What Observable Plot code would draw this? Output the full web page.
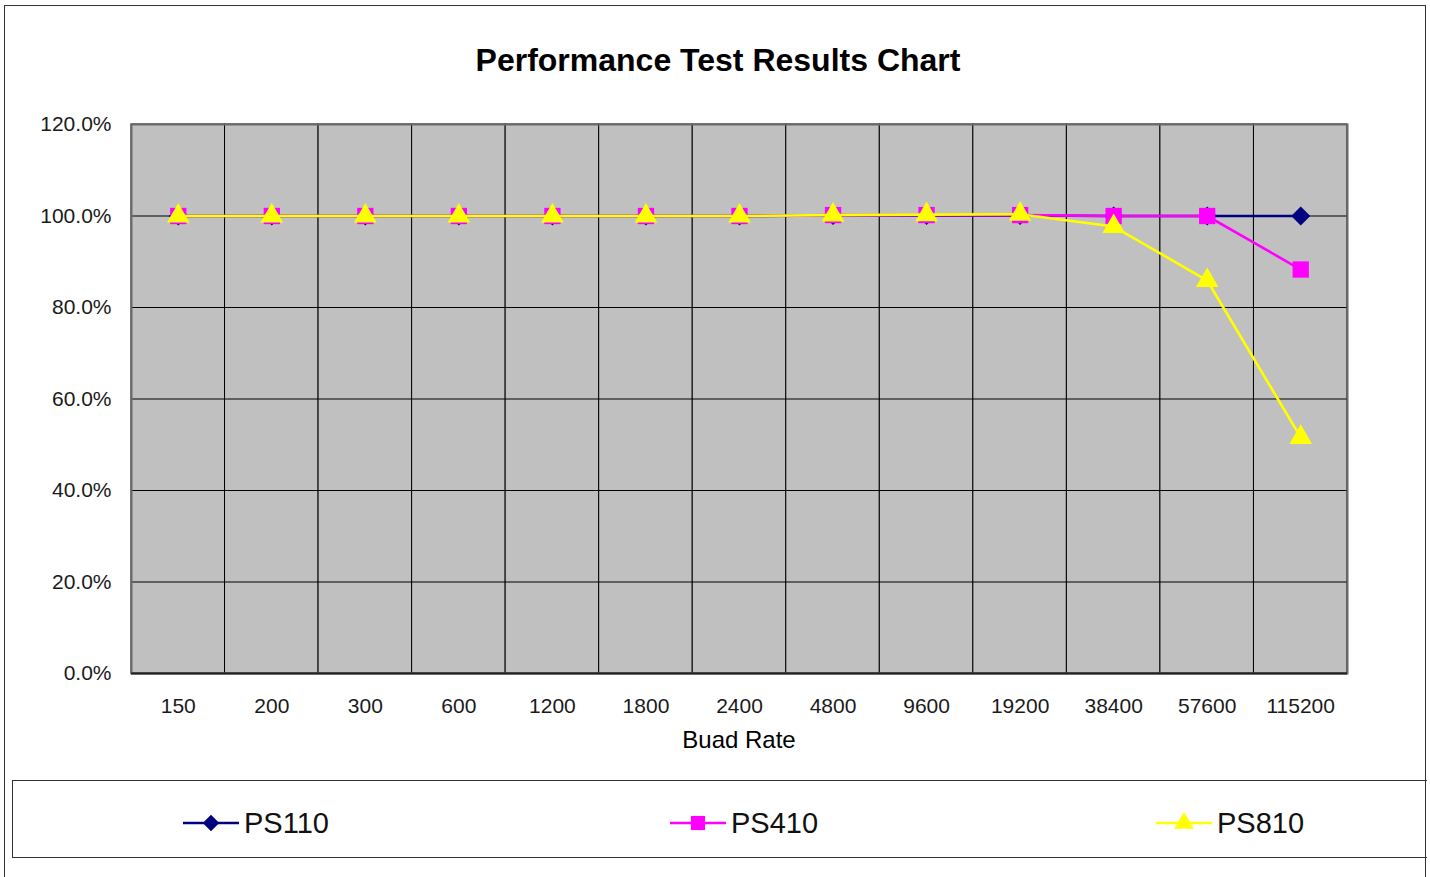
<!DOCTYPE html>
<html><head><meta charset="utf-8">
<script src="https://cdn.jsdelivr.net/npm/d3@7"></script>
<script src="https://cdn.jsdelivr.net/npm/@observablehq/plot@0.6"></script>
<style>
body{margin:0;background:#fff;font-family:"Liberation Sans",Arial,sans-serif;}
#wrap{position:relative;width:1430px;height:877px;overflow:hidden;background:#fff;}
#outer{position:absolute;left:4px;top:5px;width:1422px;height:900px;border:1px solid #333;box-sizing:border-box;}
#title{position:absolute;left:0;width:1436px;top:40px;text-align:center;font-weight:bold;font-size:32px;line-height:40px;color:#000;}
#chart{position:absolute;left:0;top:0;}
#xlabel{position:absolute;left:0;width:1478px;top:726px;text-align:center;font-size:24px;line-height:28px;color:#000;}
#legend{position:absolute;left:12px;top:780px;width:1415px;height:78px;border:1px solid #333;border-right:none;box-sizing:border-box;}
.item{position:absolute;top:4px;height:76px;display:flex;align-items:center;font-size:29px;color:#111;}
.item svg{margin-right:5px;}
</style></head>
<body><div id="wrap">
<div id="outer"></div>
<div id="chart"></div>
<div id="title">Performance Test Results Chart</div>
<div id="xlabel">Buad Rate</div>
<div id="legend"></div>
</div>
<script>
const rates = ["150","200","300","600","1200","1800","2400","4800","9600","19200","38400","57600","115200"];
const seriesNames = ["PS110","PS410","PS810"];
const ps110 = [100,100,100,100,100,100,100,100.1,100.1,100.1,100,100,100];
const ps410 = [100,100,100,100,100,100,100,100.2,100.2,100.2,100,100,88.3];
const ps810 = [100,100,100,100,100,100,100,100.2,100.3,100.4,97.7,85.9,51.6];
const yTicks = [0,20,40,60,80,100,120];
const colors = ["#000080","#ff00ff","#ffff00"];
const symbols = ["diamond2","square","triangle"];
const radii = [8.6,9.2,8.4];

const valuesBySeries = [ps110, ps410, ps810];
const rows = [];
seriesNames.forEach((s,i)=>rates.forEach((r,j)=>rows.push({series:s, rate:r, value:valuesBySeries[i][j]})));

const seriesMarks = [];
seriesNames.forEach((s,i)=>{
  const d = rows.filter(r=>r.series===s);
  seriesMarks.push(Plot.line(d,{x:"rate",y:"value",stroke:colors[i],strokeWidth:2.6}));
  seriesMarks.push(Plot.dot(d,{x:"rate",y:"value",symbol:()=>symbols[i],fill:colors[i],stroke:"none",r:radii[i]}));
});

const chart = Plot.plot({
  width:1430, height:770,
  marginTop:124, marginLeft:131, marginRight:83, marginBottom:97,
  style:{fontFamily:'"Liberation Sans",Arial,sans-serif', background:"transparent", overflow:"visible"},
  x:{type:"band", domain:rates, padding:0, round:false, label:null},
  y:{domain:[0,120], ticks:yTicks, label:null},
  symbol:{type:"identity"},
  marks:[
    Plot.cell(rates,{x:d=>d, fill:"#c0c0c0", stroke:"#000", strokeWidth:1}),
    Plot.ruleY(yTicks.slice(1,-1),{stroke:"#000",strokeWidth:1}),
    Plot.frame({stroke:"#6a6a6a",strokeWidth:2}),
    Plot.ruleY([0],{stroke:"#222",strokeWidth:2}),
    Plot.axisY({ticks:yTicks, tickSize:0, tickPadding:20, tickFormat:d=>d.toFixed(1)+"%", fontSize:21, fill:"#1a1a1a", label:null, style:{letterSpacing:"0.3px"}}),
    Plot.axisX({tickSize:0, tickPadding:25, fontSize:21, fill:"#1a1a1a", label:null, style:{letterSpacing:"0.8px"}}),
    ...seriesMarks
  ]
});
document.getElementById("chart").appendChild(chart);

// legend
const legend = document.getElementById("legend");
const legendLeft = [170, 657, 1143];
seriesNames.forEach((s,i)=>{
  const it = document.createElement("div");
  it.className="item";
  it.style.left = legendLeft[i]+"px";
  const sym = {diamond2:d3.symbolDiamond2, square:d3.symbolSquare, triangle:d3.symbolTriangle}[symbols[i]];
  const path = d3.symbol(sym, Math.PI*radii[i]*radii[i]*0.75)();
  it.innerHTML = `<svg width="56" height="20"><line x1="0" x2="56" y1="10" y2="10" stroke="${colors[i]}" stroke-width="2.4"/><path d="${path}" transform="translate(28,10)" fill="${colors[i]}"/></svg><span>${s}</span>`;
  legend.appendChild(it);
});
</script>
</body></html>
